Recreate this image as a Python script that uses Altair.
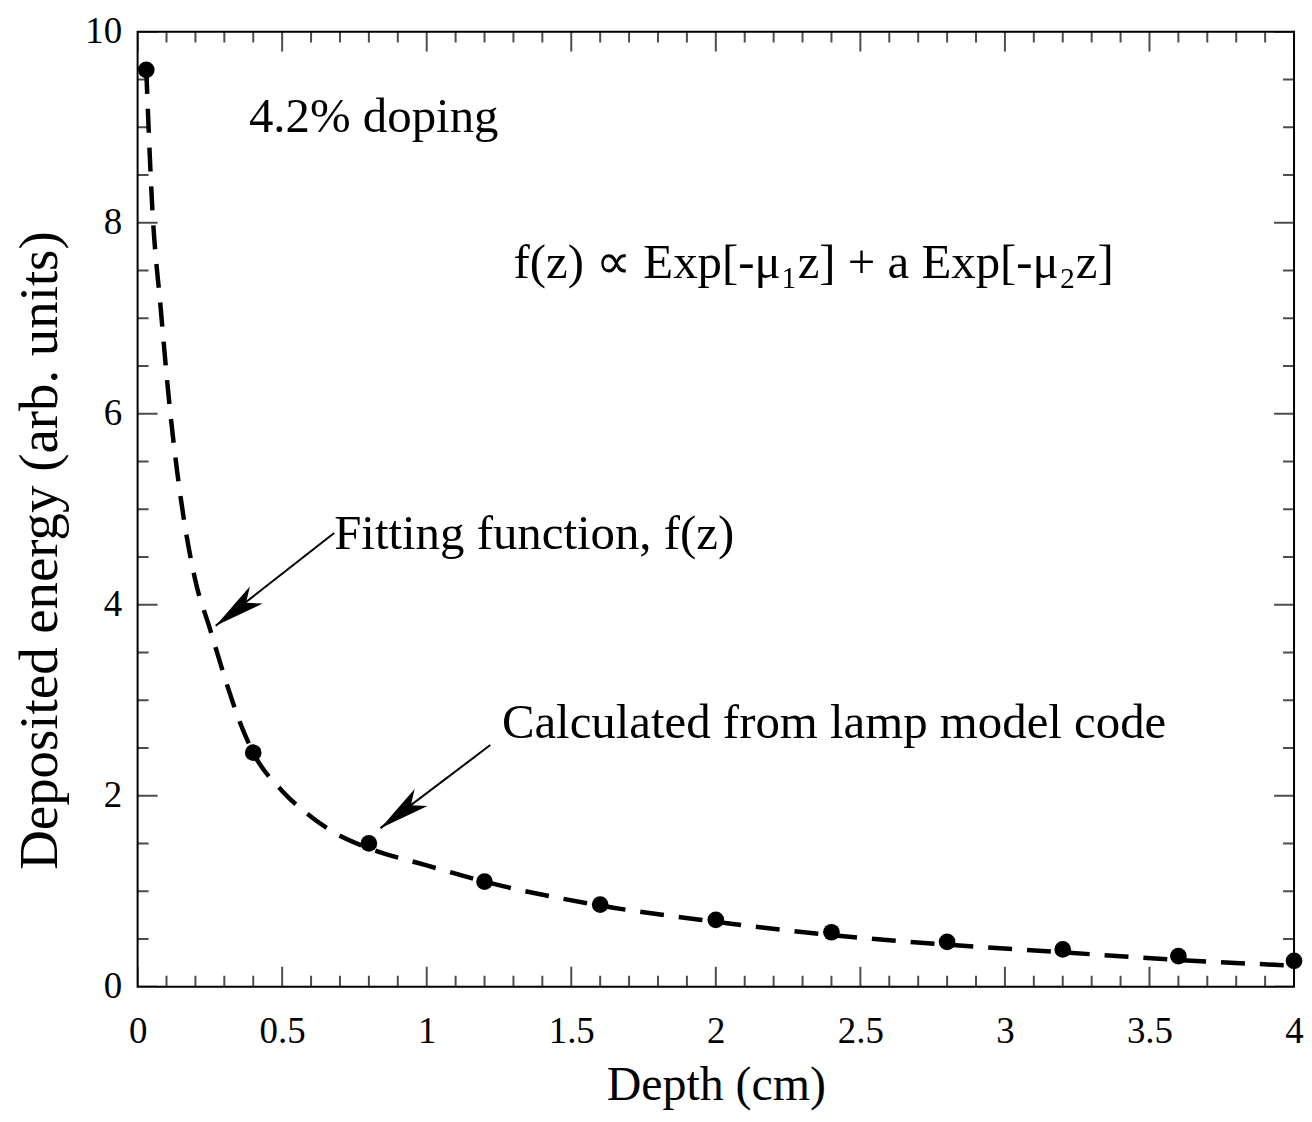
import altair as alt
import pandas as pd

# ---- data ----
calc_depth = [0.03, 0.4, 0.8, 1.2, 1.6, 2.0, 2.4, 2.8, 3.2, 3.6, 4.0]
calc_energy = [9.6, 2.45, 1.5, 1.1, 0.86, 0.70, 0.57, 0.47, 0.39, 0.32, 0.27]

fit_depth = [0.03, 0.05, 0.08, 0.11, 0.15, 0.2, 0.25, 0.3, 0.35, 0.4, 0.5, 0.6, 0.7,
             0.8, 1.0, 1.2, 1.6, 2.0, 2.4, 2.8, 3.2, 3.6, 4.0]
fit_energy = [9.6, 8.2, 7.1, 6.1, 5.1, 4.25, 3.75, 3.25, 2.8, 2.45, 2.05, 1.78, 1.58,
              1.45, 1.27, 1.1, 0.85, 0.68, 0.54, 0.44, 0.36, 0.28, 0.22]

x_major = [0, 0.5, 1, 1.5, 2, 2.5, 3, 3.5, 4]
x_minor = [round(i * 0.1, 1) for i in range(41) if i % 5]
y_major = [0, 2, 4, 6, 8, 10]
y_minor = [i * 0.5 for i in range(21) if i % 4]

arrow_id = ["fit", "fit", "calc", "calc"]
arrow_x = [0.68, 0.27, 1.22, 0.84]
arrow_y = [4.75, 3.78, 2.53, 1.66]
arrow_order = [0, 1, 0, 1]

label_text = ["4.2% doping", "f(z) \u221d Exp[-\u03bc\u2081z] + a Exp[-\u03bc\u2082z]",
              "Fitting function, f(z)", "Calculated from lamp model code"]
label_x = [0.385, 1.30, 0.68, 1.26]
label_y = [8.95, 7.42, 4.58, 2.6]

FONT = "Liberation Serif"
XS = alt.Scale(domain=[0, 4], nice=False, zero=False)
YS = alt.Scale(domain=[0, 10], nice=False, zero=False)

X_AXIS = alt.Axis(values=x_major, format="~g", domain=False, ticks=False, grid=False,
                  labelPadding=27, labelFlush=False, labelFont=FONT, labelFontSize=37,
                  labelColor="black", titleFont=FONT, titleFontSize=48,
                  titleFontWeight="normal", titleColor="black", titlePadding=12)
Y_AXIS = alt.Axis(values=y_major, format="d", domain=False, ticks=False, grid=False,
                  labelPadding=16, labelFlush=False, labelFont=FONT, labelFontSize=37,
                  labelColor="black", titleFont=FONT, titleFontSize=55,
                  titleFontWeight="normal", titleColor="black", titlePadding=16,
                  titleY=520)

pts = pd.DataFrame({"depth": calc_depth, "energy": calc_energy})
fit = pd.DataFrame({"depth": fit_depth, "energy": fit_energy})
arrows = pd.DataFrame({"id": arrow_id, "depth": arrow_x, "energy": arrow_y, "o": arrow_order})
heads = arrows[arrows["o"] == 1]
labels = pd.DataFrame({"t": label_text, "depth": label_x, "energy": label_y})


def xt(vals):
    return pd.DataFrame([{"depth": v, "energy": e} for v in vals for e in (0, 10)])


def yt(vals):
    return pd.DataFrame([{"depth": d, "energy": v} for v in vals for d in (0, 4)])


def enc(ch, **kw):
    return ch.encode(x=alt.X("depth:Q", scale=XS, axis=X_AXIS, title="Depth (cm)"),
                     y=alt.Y("energy:Q", scale=YS, axis=Y_AXIS,
                             title="Deposited energy (arb. units)"), **kw)


xmaj = enc(alt.Chart(xt(x_major)).mark_tick(orient="vertical", size=40, thickness=2, clip=True, color="black"))
xmin = enc(alt.Chart(xt(x_minor)).mark_tick(orient="vertical", size=22, thickness=2, clip=True, color="black"))
ymaj = enc(alt.Chart(yt(y_major)).mark_tick(orient="horizontal", size=40, thickness=2, clip=True, color="black"))
ymin = enc(alt.Chart(yt(y_minor)).mark_tick(orient="horizontal", size=22, thickness=2, clip=True, color="black"))

curve = enc(alt.Chart(fit).mark_line(color="black", strokeWidth=4.5, strokeDash=[24, 15],
                                     interpolate="monotone"))

points = enc(alt.Chart(pts).mark_circle(size=280, color="black", opacity=1))

arrow_lines = enc(alt.Chart(arrows).mark_line(color="black", strokeWidth=2),
                  detail="id:N", order="o:Q")

arrow_heads = enc(alt.Chart(heads).mark_point(
    shape="M0,0L0.42,2L0,1.5L-0.42,2Z", size=2600, filled=True, color="black",
    opacity=1, angle=233))

texts = enc(alt.Chart(labels).mark_text(font=FONT, fontSize=49, align="left",
                                         baseline="alphabetic", color="black"),
            text="t:N")

chart = alt.layer(curve, xmaj, xmin, ymaj, ymin, arrow_lines, arrow_heads, points, texts).properties(
    width=1160, height=958,
    padding={"left": 130, "top": 22, "right": 10, "bottom": 126},
    autosize=alt.AutoSizeParams(type="none"),
    background="white",
).configure_view(stroke="black", strokeWidth=2)

chart.save("out.html", embed_options={"renderer": "svg", "actions": False})
